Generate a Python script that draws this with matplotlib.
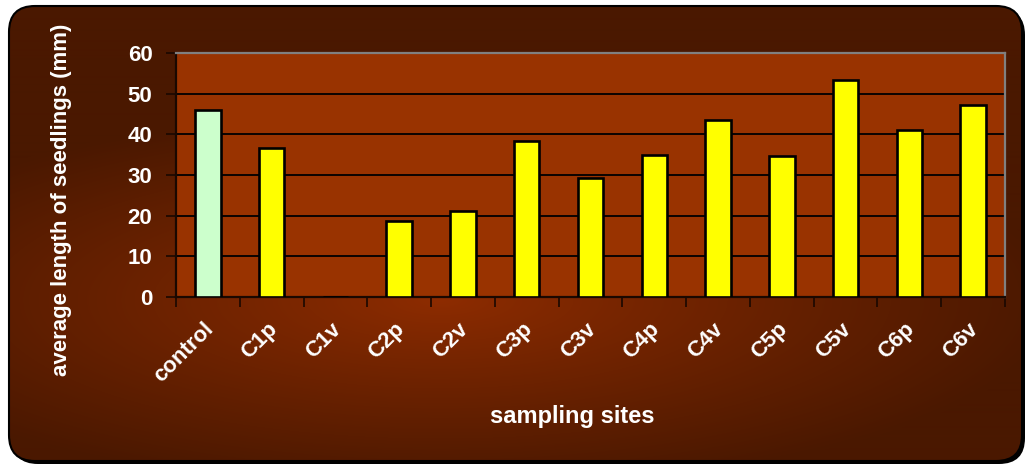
import numpy as np
import matplotlib
matplotlib.use("Agg")
import matplotlib.pyplot as plt
from matplotlib.patches import FancyBboxPatch
from matplotlib.transforms import ScaledTranslation

# Data
sites = ["control", "C1p", "C1v", "C2p", "C2v", "C3p", "C3v",
         "C4p", "C4v", "C5p", "C5v", "C6p", "C6v"]
lengths = [46.0, 36.7, 0.0, 18.7, 21.2, 38.4, 29.3,
           35.0, 43.6, 34.7, 53.3, 41.1, 47.2]
bar_colors = ["#CCFFCC"] + ["#FFFF00"] * 12
y_ticks = [0, 10, 20, 30, 40, 50, 60]

W, H = 1028, 465
plt.rcParams["font.family"] = ["Liberation Sans", "DejaVu Sans"]
plt.rcParams["font.weight"] = "bold"

fig = plt.figure(figsize=(W / 100, H / 100), dpi=100)
fig.patch.set_facecolor("white")

# Background panel with a soft elliptical gradient
bg = fig.add_axes([0, 0, 1, 1])
bg.set_xlim(0, W)
bg.set_ylim(H, 0)
bg.axis("off")

yy, xx = np.mgrid[0:H, 0:W]
t = np.sqrt(((xx - 440) / 620.0) ** 2 + ((yy - 300) / 190.0) ** 2)
t = np.clip(t, 0, 1) ** 0.9
c_in = np.array([0x8E, 0x2C, 0x00]) / 255.0
c_out = np.array([0x4A, 0x18, 0x00]) / 255.0
img = c_in[None, None, :] * (1 - t[..., None]) + c_out[None, None, :] * t[..., None]

shadow = FancyBboxPatch((12, 9), 1013, 455, boxstyle="round,pad=0,rounding_size=26",
                        facecolor="black", edgecolor="none", zorder=0)
bg.add_patch(shadow)
panel = FancyBboxPatch((9, 6), 1013, 455, boxstyle="round,pad=0,rounding_size=26",
                       facecolor="none", edgecolor="black", linewidth=1.5, zorder=3)
bg.add_patch(panel)
im = bg.imshow(img, extent=(0, W, H, 0), zorder=1, interpolation="bilinear")
im.set_clip_path(panel)

# Plot area
ax = fig.add_axes([176 / W, 1 - 297 / H, 829 / W, 244 / H])
ax.set_facecolor("#993300")
x = np.arange(len(sites))
ax.bar(x, lengths, width=0.4, color=bar_colors, edgecolor="black",
       linewidth=1.9, zorder=3)
ax.set_xlim(-0.5, len(sites) - 0.5)
ax.set_ylim(0, 60)

for v in y_ticks[1:-1]:
    ax.axhline(v, color="black", linewidth=1.3, zorder=1)

ax.set_yticks(y_ticks)
ax.set_yticklabels([str(v) for v in y_ticks], color="white",
                   fontsize=16, fontweight="bold")
ax.tick_params(axis="y", direction="out", length=7, width=1.2,
               color="#1a0800", pad=10)

ax.set_xticks(np.arange(len(sites) + 1) - 0.5)
ax.set_xticklabels([])
ax.tick_params(axis="x", which="major", direction="out", length=7,
               width=1.2, color="#1a0800")
ax.set_xticks(x, minor=True)
ax.set_xticklabels(sites, minor=True, rotation=45, ha="right",
                   rotation_mode="anchor", color="white",
                   fontsize=16, fontweight="bold")
ax.tick_params(axis="x", which="minor", length=0, pad=15.5)
shift = ScaledTranslation(-5 / 100, 0, fig.dpi_scale_trans)
for lbl in ax.get_xticklabels(minor=True):
    lbl.set_transform(lbl.get_transform() + shift)

for side in ["top", "right"]:
    ax.spines[side].set_color("#808080")
    ax.spines[side].set_linewidth(1.6)
for side in ["left", "bottom"]:
    ax.spines[side].set_color("#1a0800")
    ax.spines[side].set_linewidth(1.6)

fig.text(62 / W, 1 - 200 / H, "average length of seedlings (mm)", rotation=90,
         ha="center", va="center", color="white", fontsize=16, fontweight="bold")
fig.text(572 / W, 1 - 416 / H, "sampling sites", ha="center", va="center",
         color="white", fontsize=17, fontweight="bold")

fig.savefig("out.png", dpi=100, facecolor=fig.get_facecolor())
